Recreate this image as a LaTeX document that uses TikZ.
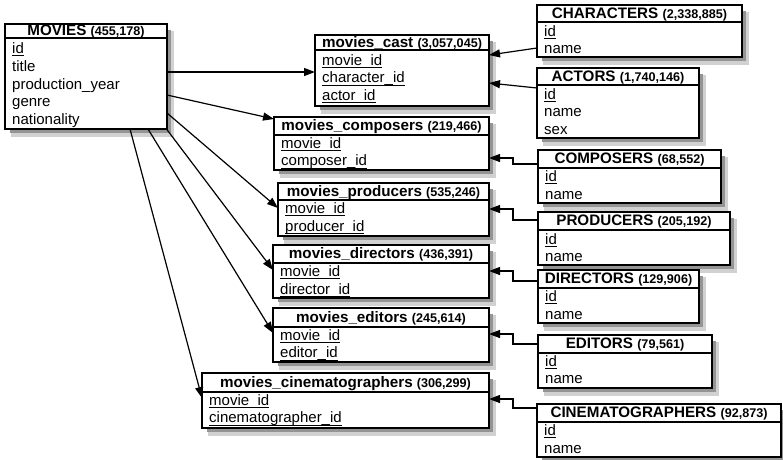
\documentclass[tikz,border=0pt]{standalone}
\usepackage{fontspec}
\setmainfont{Liberation Sans}
\usetikzlibrary{arrows.meta,calc}
\newsavebox\ulbox
\newcommand\ulx[1]{\sbox\ulbox{#1}\rlap{\rule[-2.7pt]{\wd\ulbox}{1pt}}\usebox\ulbox}
\tikzset{
  tbox/.style={draw, line width=1.3pt, fill=white, rectangle, inner sep=0pt, outer sep=0pt,
    anchor=north west},
  hline/.style={line width=1.3pt},
  htitle/.style={anchor=base, inner sep=0pt, font=\fontsize{15.2}{18}\selectfont\bfseries},
  rowt/.style={anchor=base west, inner sep=0pt, font=\fontsize{15}{17}\selectfont},
  conn/.style={line width=1.2pt, -{Triangle[length=11pt,width=8pt]}},
  shout/.style={draw=black!18, line width=7pt},
  shin/.style={draw=black!42, line width=3.5pt},
}
% name, left, top, width, height, header height, header baseline offset, title, count
\newcommand\dbt[9]{%
  \path[shout] (#2+#4+3.5,#3+7) -- (#2+#4+3.5,#3+#5+4) -- (#2+6,#3+#5+4);
  \path[shin] (#2+#4+1.8,#3+6) -- (#2+#4+1.8,#3+#5+2.2) -- (#2+5,#3+#5+2.2);
  \node[tbox, minimum width=#4pt, minimum height=#5pt] (#1) at (#2,#3) {};
  \draw[hline] (#1.north west) ++(0,#6) -- ++(#4,0);
  \node[htitle] (#1-t) at (#2+#4/2,#3+#7) {#8 {\fontsize{12.6}{15}\selectfont(#9)}};
}
% name, x, first baseline, items
\newcommand\rows[4]{\foreach \r [count=\i] in {#4} {\node[rowt] (#1-\i) at (#2,#3+\i*17.8-17.8) {\r};}}
\begin{document}
\begin{tikzpicture}[x=1pt,y=-1pt]
\useasboundingbox (0,0) rectangle (783,459);
% tables
\dbt{movies}{5}{24}{162}{105}{14}{11.5}{MOVIES}{455,178}
\rows{movies}{12}{53.5}{\ulx{id},title,production\_year,genre,nationality}

\dbt{cast}{315}{35}{174}{71}{15}{12}{movies\_cast}{3,057,045}
\rows{cast}{322}{65}{\ulx{movie\_id},\ulx{character\_id},\ulx{actor\_id}}

\dbt{characters}{537}{5}{205}{52}{17}{13.3}{CHARACTERS}{2,338,885}
\rows{characters}{544}{36}{\ulx{id},name}

\dbt{actors}{537}{68}{162}{70}{17}{13}{ACTORS}{1,740,146}
\rows{actors}{544}{99}{\ulx{id},name,sex}

\dbt{compj}{274}{117}{215}{53}{18}{13.8}{movies\_composers}{219,466}
\rows{compj}{281}{148}{\ulx{movie\_id},\ulx{composer\_id}}

\dbt{prodj}{278}{183}{211}{53}{17}{13.5}{movies\_producers}{535,246}
\rows{prodj}{285}{213.3}{\ulx{movie\_id},\ulx{producer\_id}}

\dbt{composers}{538}{150}{183}{53}{18}{13.8}{COMPOSERS}{68,552}
\rows{composers}{545}{181.7}{\ulx{id},name}

\dbt{producers}{538}{212}{192}{53}{18}{13.8}{PRODUCERS}{205,192}
\rows{producers}{545}{244}{\ulx{id},name}

\dbt{dirj}{273}{245}{216}{53}{18}{13.8}{movies\_directors}{436,391}
\rows{dirj}{280}{276.7}{\ulx{movie\_id},\ulx{director\_id}}

\dbt{directors}{538}{270}{161}{53}{18}{13.5}{DIRECTORS}{129,906}
\rows{directors}{545}{301.7}{\ulx{id},name}

\dbt{edj}{273}{308}{216}{54}{19}{14.5}{movies\_editors}{245,614}
\rows{edj}{280}{340}{\ulx{movie\_id},\ulx{editor\_id}}

\dbt{editors}{538}{335}{174}{53}{18}{13.8}{EDITORS}{79,561}
\rows{editors}{545}{366}{\ulx{id},name}

\dbt{cinej}{202}{373}{287}{55}{19}{14.5}{movies\_cinematographers}{306,299}
\rows{cinej}{209}{405}{\ulx{movie\_id},\ulx{cinematographer\_id}}

\dbt{cinema}{537}{404}{244}{53}{18}{13.8}{CINEMATOGRAPHERS}{92,873}
\rows{cinema}{544}{435.7}{\ulx{id},name}

% connectors from MOVIES
\draw[conn] (movies.east |- 0,72) -- (cast.west |- 0,72);
\draw[conn] (movies.east |- 0,95) -- (compj.west |- 0,119);
\draw[conn] (movies.east |- 0,113) -- (prodj.west |- 0,208);
\draw[conn] (movies.south -| 166.5,0) -- (dirj.west |- 0,270);
\draw[conn] (movies.south -| 148,0) -- (edj.west |- 0,333);
\draw[conn] (movies.south -| 130,0) -- (cinej.west |- 0,398);
% connectors from entity tables
\draw[conn] (characters.west |- 0,48) -- (cast.east |- 0,55);
\draw[conn] (actors.west |- 0,88) -- (cast.east |- 0,83);
\draw[conn] (composers.west |- 0,164) -- ++(-25,0) |- (compj.east |- 0,158);
\draw[conn] (producers.west |- 0,220) -- ++(-25,0) |- (prodj.east |- 0,209);
\draw[conn] (directors.west |- 0,281) -- ++(-25,0) |- (dirj.east |- 0,271);
\draw[conn] (editors.west |- 0,344) -- ++(-25,0) |- (edj.east |- 0,334);
\draw[conn] (cinema.west |- 0,408) -- ++(-24,0) |- (cinej.east |- 0,399);
\end{tikzpicture}
\end{document}
